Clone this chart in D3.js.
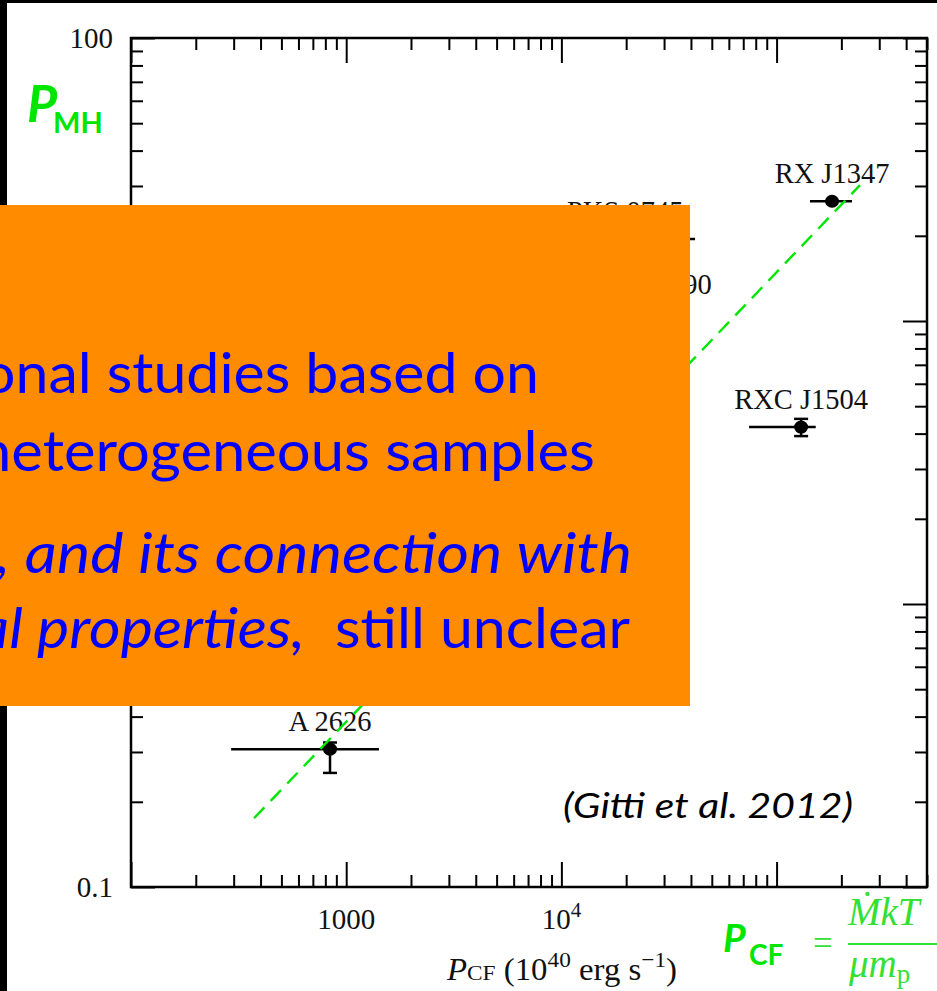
<!DOCTYPE html>
<html>
<head>
<meta charset="utf-8">
<script src="https://cdn.jsdelivr.net/npm/d3@7"></script>
<style>
body { margin: 0; background: #fff; }
svg { display: block; }
</style>
</head>
<body>
<svg id="chart" width="937" height="991"></svg>
<script>
// ---------- data ---------- //
var names  = ["A 2626", "PKS 0745", "A 2390", "RXC J1504", "RX J1347"];
var pcf    = [841, 19800, 32000, 130000, 181000];     // 10^40 erg/s
var pcfLo  = [292, 9000, 23000, 74500, 143000];
var pcfHi  = [1420, 41800, 38000, 152000, 224000];
var pmh    = [0.307, 19.5, 10.8, 4.22, 26.5];
var pmhLo  = [0.253, 19.5, 10.8, 3.92, 26.5];
var pmhHi  = [0.324, 19.5, 10.8, 4.51, 26.5];

// dashed green relation
var fitX = [373, 244000];
var fitY = [0.175, 30.2];

// tick labels (the others sit under the orange box on the slide)
var xTickVals = [1000, 10000];
var xTickBase = ["1000", "10"];
var xTickSup  = ["", "4"];
var yTickVals = [0.1, 100];
var yTickText = ["0.1", "100"];

// ---------- canvas ---------- //
var width = 937, height = 991;
var plotL = 131, plotR = 927, plotT = 38, plotB = 887;

var svg = d3.select("#chart")
    .attr("width", width)
    .attr("height", height);

svg.append("rect").attr("width", width).attr("height", height).attr("fill", "#fff");

var x = d3.scaleLog().domain([100, 500000]).range([plotL, plotR]);
var y = d3.scaleLog().domain([0.1, 100]).range([plotB, plotT]);

var isMajor = function(v) { return Math.abs(Math.log10(v) - Math.round(Math.log10(v))) < 1e-9; };
var xMinor = x.ticks().filter(function(v) { return !isMajor(v); });
var xMajor = x.ticks().filter(isMajor);
var yMinor = y.ticks().filter(function(v) { return !isMajor(v); });
var yMajor = y.ticks().filter(isMajor);

// --- axes (ticks pointing inward on all four sides) --- //
function addAxis(axis, tx, ty) {
	var g = svg.append("g")
		.attr("transform", "translate(" + tx + "," + ty + ")")
		.call(axis);
	g.select(".domain").remove();
	g.selectAll("line").attr("stroke", "#000").attr("stroke-width", 2);
	g.selectAll("text").remove();
}

addAxis(d3.axisBottom(x).tickValues(xMinor).tickSize(-12), 0, plotB);
addAxis(d3.axisBottom(x).tickValues(xMajor).tickSize(-25), 0, plotB);
addAxis(d3.axisTop(x).tickValues(xMinor).tickSize(-12), 0, plotT);
addAxis(d3.axisTop(x).tickValues(xMajor).tickSize(-25), 0, plotT);
addAxis(d3.axisLeft(y).tickValues(yMinor).tickSize(-12), plotL, 0);
addAxis(d3.axisLeft(y).tickValues(yMajor).tickSize(-24), plotL, 0);
addAxis(d3.axisRight(y).tickValues(yMinor).tickSize(-12), plotR, 0);
addAxis(d3.axisRight(y).tickValues(yMajor).tickSize(-24), plotR, 0);

// frame
svg.append("rect")
	.attr("x", plotL).attr("y", plotT)
	.attr("width", plotR - plotL).attr("height", plotB - plotT)
	.attr("fill", "none").attr("stroke", "#000").attr("stroke-width", 2.5);

// tick labels
var serif = "'Liberation Serif', 'Times New Roman', serif";

svg.selectAll(".ylab").data(yTickVals).enter().append("text")
	.attr("class", "ylab")
	.attr("x", plotL - 18)
	.attr("y", function(d) { return y(d) + 10; })
	.attr("text-anchor", "end")
	.attr("font-family", serif).attr("font-size", "29px")
	.attr("fill", "#111")
	.text(function(d, i) { return yTickText[i]; });

var xl = svg.selectAll(".xlab").data(xTickVals).enter().append("text")
	.attr("class", "xlab")
	.attr("x", function(d) { return x(d); })
	.attr("y", plotB + 42)
	.attr("text-anchor", "middle")
	.attr("font-family", serif).attr("font-size", "29px")
	.attr("fill", "#111");
xl.append("tspan").text(function(d, i) { return xTickBase[i]; });
xl.append("tspan").attr("dy", -12).attr("font-size", "21px")
	.text(function(d, i) { return xTickSup[i]; });

// x title
var xt = svg.append("text")
	.attr("x", 447).attr("y", 980)
	.attr("font-family", serif).attr("font-size", "31px").attr("fill", "#111")
	.attr("textLength", 230).attr("lengthAdjust", "spacingAndGlyphs");
xt.append("tspan").attr("font-style", "italic").text("P");
xt.append("tspan").attr("font-size", "22px").text("CF");
xt.append("tspan").text(" (10");
xt.append("tspan").attr("dy", -13).attr("font-size", "22px").text("40");
xt.append("tspan").attr("dy", 13).text(" erg s");
xt.append("tspan").attr("dy", -13).attr("font-size", "22px").text("\u22121");
xt.append("tspan").attr("dy", 13).text(")");

// --- data points --- //
var idx = d3.range(names.length);
var pts = svg.append("g");

pts.selectAll(".xerr").data(idx).enter().append("line")
	.attr("x1", function(i) { return x(pcfLo[i]); })
	.attr("x2", function(i) { return x(pcfHi[i]); })
	.attr("y1", function(i) { return y(pmh[i]); })
	.attr("y2", function(i) { return y(pmh[i]); })
	.attr("stroke", "#000").attr("stroke-width", 2.5);

var yb = idx.filter(function(i) { return pmhHi[i] > pmhLo[i]; });
pts.selectAll(".yerr").data(yb).enter().append("line")
	.attr("x1", function(i) { return x(pcf[i]); })
	.attr("x2", function(i) { return x(pcf[i]); })
	.attr("y1", function(i) { return y(pmhLo[i]); })
	.attr("y2", function(i) { return y(pmhHi[i]); })
	.attr("stroke", "#000").attr("stroke-width", 2.5);
[pmhLo, pmhHi].forEach(function(arr) {
	pts.selectAll(null).data(yb).enter().append("line")
		.attr("x1", function(i) { return x(pcf[i]) - 7; })
		.attr("x2", function(i) { return x(pcf[i]) + 7; })
		.attr("y1", function(i) { return y(arr[i]); })
		.attr("y2", function(i) { return y(arr[i]); })
		.attr("stroke", "#000").attr("stroke-width", 2.5);
});

pts.selectAll("circle").data(idx).enter().append("ellipse")
	.attr("cx", function(i) { return x(pcf[i]); })
	.attr("cy", function(i) { return y(pmh[i]); })
	.attr("rx", 7).attr("ry", 6.5)
	.attr("fill", "#000");

pts.selectAll(".name").data(idx).enter().append("text")
	.attr("x", function(i) { return x(pcf[i]); })
	.attr("y", function(i) { return y(pmh[i]) - 18; })
	.attr("text-anchor", "middle")
	.attr("font-family", serif).attr("font-size", "28.5px")
	.attr("fill", "#111")
	.text(function(i) { return names[i]; });

// dashed relation
svg.append("line")
	.attr("x1", x(fitX[0])).attr("y1", y(fitY[0]))
	.attr("x2", x(fitX[1])).attr("y2", y(fitY[1]))
	.attr("stroke", "#00e600").attr("stroke-width", 2.4)
	.attr("stroke-dasharray", "15,9");

// citation
svg.append("text")
	.attr("x", 563).attr("y", 818)
	.attr("font-family", "Lato, sans-serif").attr("font-style", "italic")
	.attr("font-size", "35px").attr("fill", "#000")
	.attr("textLength", 290).attr("lengthAdjust", "spacingAndGlyphs")
	.text("(Gitti et al. 2012)");

// --- slide decorations --- //
svg.append("rect").attr("x", 0).attr("y", 0).attr("width", width).attr("height", 3).attr("fill", "#000");
svg.append("rect").attr("x", 0).attr("y", 0).attr("width", 7).attr("height", height).attr("fill", "#000");

// green labels
var green = "#00e600";
var pmhLab = svg.append("text").attr("x", 27).attr("y", 122)
	.attr("font-family", "Lato, sans-serif").attr("font-weight", "bold").attr("fill", green);
pmhLab.append("tspan").attr("font-style", "italic").attr("font-size", "52px").text("P");
pmhLab.append("tspan").attr("x", 53).attr("y", 133).attr("font-size", "29px").text("MH");

var pcfLab = svg.append("text").attr("x", 723).attr("y", 952)
	.attr("font-family", "Lato, sans-serif").attr("font-weight", "bold").attr("fill", green);
pcfLab.append("tspan").attr("font-style", "italic").attr("font-size", "39px").text("P");
pcfLab.append("tspan").attr("x", 749).attr("y", 965).attr("font-size", "28px").text("CF");

var mathGreen = "#33e033";
svg.append("text").attr("x", 813).attr("y", 955)
	.attr("font-family", serif).attr("font-size", "35px").attr("fill", mathGreen).text("=");
svg.append("text").attr("x", 848).attr("y", 925)
	.attr("font-family", serif).attr("font-style", "italic")
	.attr("font-size", "39px").attr("fill", mathGreen)
	.text("\u1E40kT");
svg.append("line").attr("x1", 848).attr("x2", 940).attr("y1", 944).attr("y2", 944)
	.attr("stroke", mathGreen).attr("stroke-width", 1.8);
var den = svg.append("text").attr("x", 849).attr("y", 977)
	.attr("font-family", serif).attr("font-size", "39px").attr("fill", mathGreen);
den.append("tspan").attr("font-style", "italic").text("\u03BCm");
den.append("tspan").attr("dy", 6).attr("font-size", "27px").text("p");

// orange overlay box with blue text
svg.append("rect").attr("x", 0).attr("y", 205).attr("width", 690).attr("height", 501).attr("fill", "#ff8c00");

var blue = "#0000ff";
var lines = [
	{ t: "onal studies based on",        x: -18, y: 393, w: 557, it: false },
	{ t: "heterogeneous samples",        x: -22, y: 471, w: 617, it: false },
	{ t: ", and its connection with",    x: -4,  y: 573, w: 636, it: true },
	{ t: "al properties,",               x: -22, y: 648, w: 327, it: true },
	{ t: "still unclear",                x: 335, y: 648, w: 295, it: false }
];
svg.selectAll(".bx").data(lines).enter().append("text")
	.attr("x", function(d) { return d.x; })
	.attr("y", function(d) { return d.y; })
	.attr("font-family", "Lato, sans-serif")
	.attr("font-size", "57px")
	.attr("font-style", function(d) { return d.it ? "italic" : "normal"; })
	.attr("fill", blue)
	.attr("textLength", function(d) { return d.w; })
	.attr("lengthAdjust", "spacingAndGlyphs")
	.text(function(d) { return d.t; });
</script>
</body>
</html>
